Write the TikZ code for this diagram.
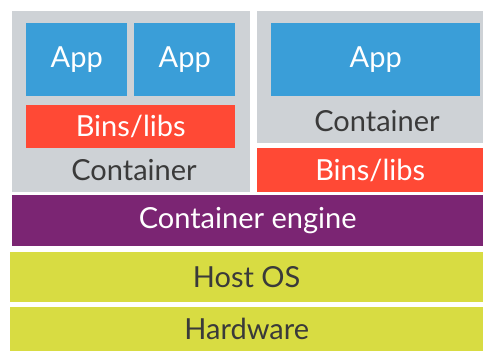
\documentclass[tikz,border=0pt]{standalone}
\usepackage{fontspec}
\setmainfont{Lato}
\usetikzlibrary{positioning}
\definecolor{boxgray}{HTML}{CED2D6}
\definecolor{appblue}{HTML}{3A9ED8}
\definecolor{binsred}{HTML}{FF4935}
\definecolor{engpurple}{HTML}{7B2573}
\definecolor{hostyellow}{HTML}{D8DC42}
\definecolor{textdark}{HTML}{3A3A3A}
\tikzset{
    block/.style = {rectangle, inner sep=0, anchor=north west,
        font=\fontsize{29}{31}\selectfont},
    app/.style = {block, fill=appblue, text=white},
    bins/.style = {block, fill=binsred, text=white},
    cont/.style = {block, fill=boxgray},
    engine/.style = {block, fill=engpurple, text=white},
    host/.style = {block, fill=hostyellow, text=textdark},
    tag/.style = {inner sep=0, text=textdark, font=\fontsize{29}{31}\selectfont}
}
\begin{document}
\begin{tikzpicture}[x=1pt,y=-1pt]
    \useasboundingbox (0,0) rectangle (483,351);
    % left container
    \node[cont,minimum width=238pt,minimum height=181pt] (cl) at (12,11) {};
    \node[app,minimum width=101pt,minimum height=73pt] (app1) at (26,23) {App};
    \node[app,minimum width=101pt,minimum height=73pt] (app2) at (134,23) {App};
    \node[bins,minimum width=209pt,minimum height=43pt] (bins1) at (26,105) {Bins/libs};
    \node[tag] (cl-lab) at (134,170) {Container};
    % right container
    \node[cont,minimum width=226pt,minimum height=132pt] (cr) at (257,11) {};
    \node[app,minimum width=209pt,minimum height=73pt] (app3) at (271,23) {App};
    \node[tag] (cr-lab) at (377,121) {Container};
    \node[bins,minimum width=226pt,minimum height=44pt] (bins2) at (257,148) {Bins/libs};
    % layers
    \node[engine,minimum width=471pt,minimum height=51pt] (eng) at (12,195) {Container engine};
    \node[host,minimum width=473pt,minimum height=50pt] (os) at (10,252) {Host OS};
    \node[host,minimum width=473pt,minimum height=44pt] (hw) at (10,307) {Hardware};
\end{tikzpicture}
\end{document}
